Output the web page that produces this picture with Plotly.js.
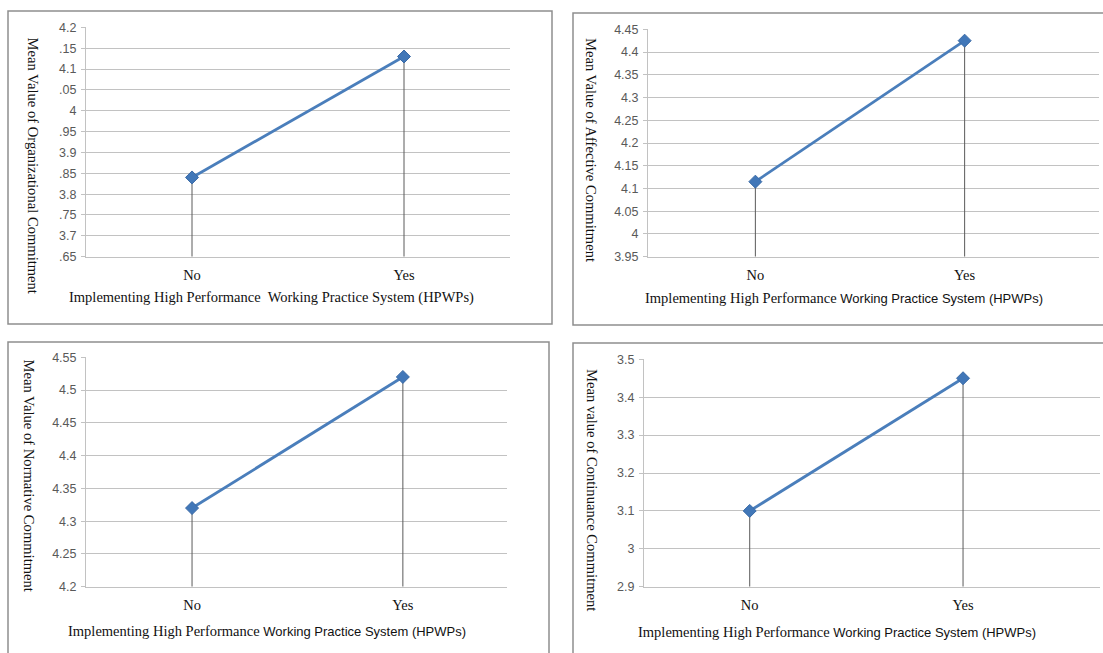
<!DOCTYPE html>
<html>
<head>
<meta charset="utf-8">
<script src="https://cdn.plot.ly/plotly-3.0.1.min.js"></script>
<style>
  html, body { margin: 0; padding: 0; background: #ffffff; }
  #chart { width: 1103px; height: 653px; }
</style>
</head>
<body>
<div id="chart"></div>
<script>
// HPWPs implementation groups
const categories = ['No', 'Yes'];

// Mean values per group
const organizationalMeans = [3.84, 4.13];
const affectiveMeans = [4.115, 4.425];
const normativeMeans = [4.32, 4.52];
const continuanceMeans = [3.10, 3.45];

// Y-axis ticks and their printed labels
const orgTickVals = [3.65, 3.7, 3.75, 3.8, 3.85, 3.9, 3.95, 4, 4.05, 4.1, 4.15, 4.2];
const orgTickText = ['.65', '3.7', '.75', '3.8', '.85', '3.9', '.95', '4', '.05', '4.1', '.15', '4.2'];
const affTickVals = [3.95, 4, 4.05, 4.1, 4.15, 4.2, 4.25, 4.3, 4.35, 4.4, 4.45];
const affTickText = ['3.95', '4', '4.05', '4.1', '4.15', '4.2', '4.25', '4.3', '4.35', '4.4', '4.45'];
const normTickVals = [4.2, 4.25, 4.3, 4.35, 4.4, 4.45, 4.5, 4.55];
const normTickText = ['4.2', '4.25', '4.3', '4.35', '4.4', '4.45', '4.5', '4.55'];
const contTickVals = [2.9, 3, 3.1, 3.2, 3.3, 3.4, 3.5];
const contTickText = ['2.9', '3', '3.1', '3.2', '3.3', '3.4', '3.5'];

// Axis titles
const yTitles = [
  'Mean Value of Organizational Commitment',
  'Mean Value of Affective Commitment',
  'Mean Value of Normative Commitment',
  'Mean value of Continuance Commitment'
];
const xTitleSerif = 'Implementing High Performance';
const xTitleRest = 'Working Practice System (HPWPs)';

const W = 1103, H = 653;
const SERIF = '"Liberation Serif", "Times New Roman", serif';
const SANS = '"Liberation Sans", Arial, sans-serif';
const LINE_BLUE = '#4a7ebb';
const GRID = '#c2c2c2';

// Pixel boxes for each panel (frame and plotting area)
const panels = [
  { means: organizationalMeans, tv: orgTickVals, tt: orgTickText, yr: [3.65, 4.2],
    plot: [86, 510, 27.3, 256.7], xr: [-0.5, 1.5], frame: [8, 552, 11, 324] },
  { means: affectiveMeans, tv: affTickVals, tt: affTickText, yr: [3.95, 4.45],
    plot: [648, 1099, 29.3, 256.7], xr: [-0.513, 1.642], frame: [573, 1110, 13, 325] },
  { means: normativeMeans, tv: normTickVals, tt: normTickText, yr: [4.2, 4.55],
    plot: [86, 507, 357.3, 586.7], xr: [-0.503, 1.494], frame: [8, 549, 342, 670] },
  { means: continuanceMeans, tv: contTickVals, tt: contTickText, yr: [2.9, 3.5],
    plot: [644, 1100, 359.3, 586.7], xr: [-0.4955, 1.642], frame: [573, 1110, 343, 670] }
];

const px = x => x / W;
const py = y => 1 - y / H;

const data = [];
const layout = {
  width: W, height: H,
  margin: { l: 0, r: 0, t: 0, b: 0 },
  paper_bgcolor: '#ffffff',
  plot_bgcolor: '#ffffff',
  showlegend: false,
  shapes: [],
  annotations: []
};

// Text placement per panel: y-title centre, x-title centre
const yTitlePos = [[33, 165.5], [591, 150], [28.5, 475], [592, 490]];
const xTitlePos = [[271.7, 297.7], [844, 298.3], [267, 631], [837, 632.3]];
const xTitleMixed = [false, true, true, true];

panels.forEach((p, i) => {
  const n = i === 0 ? '' : String(i + 1);
  const xa = 'x' + n, ya = 'y' + n;

  // Drop lines from each point down to the category axis
  const dx = [], dy = [];
  categories.forEach((c, k) => {
    dx.push(c, c, null);
    dy.push(p.yr[0], p.means[k], null);
  });
  data.push({
    x: dx, y: dy, xaxis: xa, yaxis: ya, type: 'scatter', mode: 'lines',
    line: { color: '#5a5a5a', width: 1 }, hoverinfo: 'skip', connectgaps: false
  });

  // Mean line with diamond markers
  data.push({
    x: categories, y: p.means, xaxis: xa, yaxis: ya, type: 'scatter', mode: 'lines+markers',
    line: { color: LINE_BLUE, width: 2.8 },
    marker: { symbol: 'diamond', size: 10, color: '#4177b8', line: { color: '#3a6aa6', width: 1 } }
  });

  layout['xaxis' + n] = {
    domain: [px(p.plot[0]), px(p.plot[1])],
    anchor: ya,
    type: 'category',
    range: p.xr,
    showgrid: false, zeroline: false,
    showline: true, linecolor: GRID, linewidth: 1,
    ticks: '', ticklabelstandoff: 5,
    tickfont: { family: SERIF, size: 14.5, color: '#111111' },
    fixedrange: true
  };
  layout['yaxis' + n] = {
    domain: [py(p.plot[3]), py(p.plot[2])],
    anchor: xa,
    range: p.yr,
    tickmode: 'array', tickvals: p.tv, ticktext: p.tt,
    showgrid: true, gridcolor: GRID, gridwidth: 1,
    zeroline: false,
    showline: true, linecolor: GRID, linewidth: 1,
    ticks: 'outside', ticklen: 4, tickcolor: GRID,
    ticklabelstandoff: 2,
    tickfont: { family: SANS, size: 12.5, color: '#595959' },
    fixedrange: true
  };

  // Panel frame
  layout.shapes.push({
    type: 'rect', xref: 'paper', yref: 'paper',
    x0: px(p.frame[0]), x1: px(p.frame[1]), y0: py(p.frame[3]), y1: py(p.frame[2]),
    line: { color: '#8e8e8e', width: 1.5 }, fillcolor: 'rgba(0,0,0,0)', layer: 'below'
  });

  // Vertical y-axis title, read top to bottom
  layout.annotations.push({
    xref: 'paper', yref: 'paper',
    x: px(yTitlePos[i][0]), y: py(yTitlePos[i][1]),
    text: yTitles[i], textangle: 90, showarrow: false,
    xanchor: 'center', yanchor: 'middle',
    font: { family: SERIF, size: 14.6, color: '#111111' }
  });

  // Category axis title
  const xt = xTitleMixed[i]
    ? xTitleSerif + ' <span style="font-family:' + "'Liberation Sans'" + ';font-size:13px">' + xTitleRest + '</span>'
    : xTitleSerif + '  ' + xTitleRest;
  layout.annotations.push({
    xref: 'paper', yref: 'paper',
    x: px(xTitlePos[i][0]), y: py(xTitlePos[i][1]),
    text: xt, showarrow: false, xanchor: 'center', yanchor: 'middle',
    font: { family: SERIF, size: 14.5, color: '#111111' }
  });
});

Plotly.newPlot('chart', data, layout, { staticPlot: true, displayModeBar: false });
</script>
</body>
</html>
